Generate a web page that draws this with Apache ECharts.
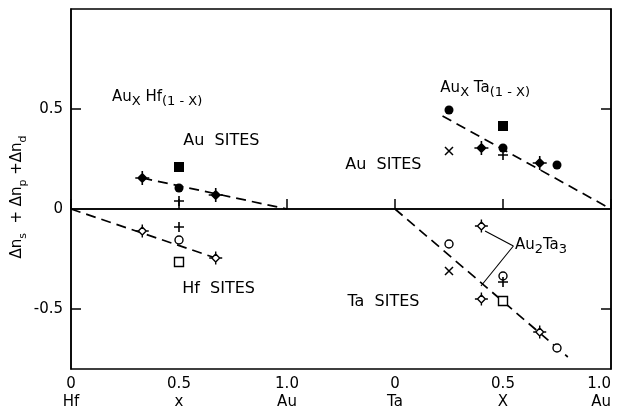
<!DOCTYPE html>
<html>
<head>
<meta charset="utf-8">
<script src="https://cdn.jsdelivr.net/npm/echarts@6/dist/echarts.min.js"></script>
<style>
  html, body { margin: 0; padding: 0; background: #fff; }
  #chart { width: 618px; height: 406px; }
</style>
</head>
<body>
<div id="chart"></div>
<script>
// x axis runs 0..2.5 : Hf panel 0..1, Ta panel starts at 1.5
const TA_OFFSET = 1.5;
const tickLabels = ['0\nHf', '0.5\nx', '1.0\nAu', '0\nTa', '0.5\nX', '1.0\nAu'];
const yTickValues = [-0.5, 0.5];
const yLabelValues = [-0.5, 0, 0.5];

// Au_x Hf_(1-x)  (x, dn)
const hfAuFilledDiamond = [[0.33, 0.155], [0.67, 0.07]];
const hfAuFilledSquare = [[0.5, 0.21]];
const hfAuFilledCircle = [[0.5, 0.105]];
const hfAuPlus = [[0.5, 0.04]];
const hfHfOpenDiamond = [[0.33, -0.11], [0.67, -0.245]];
const hfHfPlus = [[0.5, -0.09]];
const hfHfOpenCircle = [[0.5, -0.155]];
const hfHfOpenSquare = [[0.5, -0.265]];
const hfAuFit = [[0.33, 0.155], [1.0, 0]];
const hfHfFit = [[0, 0], [0.67, -0.245]];

// Au_x Ta_(1-x)  (x, dn)
const taAuFilledCircle = [[0.25, 0.495], [0.5, 0.305], [0.75, 0.22]];
const taAuFilledSquare = [[0.5, 0.415]];
const taAuCross = [[0.25, 0.29]];
const taAuFilledDiamond = [[0.4, 0.305], [0.67, 0.23]];
const taAuPlus = [[0.5, 0.27]];
const taTaOpenDiamond = [[0.4, -0.085], [0.4, -0.45], [0.67, -0.615]];
const taTaOpenCircle = [[0.25, -0.175], [0.5, -0.335], [0.75, -0.695]];
const taTaCross = [[0.25, -0.31]];
const taTaPlus = [[0.5, -0.365]];
const taTaOpenSquare = [[0.5, -0.46]];
const taAuFit = [[0.22, 0.465], [1.0, 0]];
const taTaFit = [[0, 0], [0.8, -0.74]];

const FONT = 'DejaVu Sans';
const INK = '#000';

const SYM = {
  sunDiamond: 'path://M0,-6L6,0L0,6L-6,0ZM0,-10L0,-6M0,6L0,10M-10,0L-6,0M6,0L10,0',
  plus: 'path://M0,-5L0,5M-5,0L5,0',
  cross: 'path://M-5,-5L5,5M-5,5L5,-5'
};

const shift = (arr) => arr.map(p => [p[0] + TA_OFFSET, p[1]]);

function pts(data, kind) {
  let s = { type: 'scatter', data: data, z: 5, silent: true };
  if (kind === 'filledCircle') {
    s.symbol = 'circle'; s.symbolSize = 9; s.itemStyle = { color: INK };
  } else if (kind === 'openCircle') {
    s.symbol = 'circle'; s.symbolSize = 8;
    s.itemStyle = { color: '#fff', borderColor: INK, borderWidth: 1.4 };
  } else if (kind === 'filledSquare') {
    s.symbol = 'rect'; s.symbolSize = 10; s.itemStyle = { color: INK };
  } else if (kind === 'openSquare') {
    s.symbol = 'rect'; s.symbolSize = 9;
    s.itemStyle = { color: '#fff', borderColor: INK, borderWidth: 1.4 };
  } else if (kind === 'filledDiamond') {
    s.symbol = SYM.sunDiamond; s.symbolSize = 14;
    s.itemStyle = { color: INK, borderColor: INK, borderWidth: 1.6 };
  } else if (kind === 'openDiamond') {
    s.symbol = SYM.sunDiamond; s.symbolSize = 13;
    s.itemStyle = { color: '#fff', borderColor: INK, borderWidth: 1.4 };
  } else if (kind === 'plus') {
    s.symbol = SYM.plus; s.symbolSize = 10;
    s.itemStyle = { color: 'transparent', borderColor: INK, borderWidth: 1.6 };
  } else if (kind === 'cross') {
    s.symbol = SYM.cross; s.symbolSize = 8;
    s.itemStyle = { color: 'transparent', borderColor: INK, borderWidth: 1.5 };
  }
  s.itemStyle.opacity = 1;
  return s;
}

function fit(data) {
  return {
    type: 'line', data: data, symbol: 'none', silent: true, z: 3,
    lineStyle: { color: INK, width: 1.7, type: [10, 6] }
  };
}

const richText = {
  a: { fontFamily: FONT, fontSize: 15, color: INK, verticalAlign: 'top', lineHeight: 19 },
  s: { fontFamily: FONT, fontSize: 13, color: INK, verticalAlign: 'bottom', lineHeight: 13, padding: [9, 0, 0, 0] }
};

function note(x, y, text) {
  return {
    value: [x, y],
    label: {
      show: true, position: 'inside', formatter: text,
      fontFamily: FONT, fontSize: 16, color: INK, align: 'left',
      textBorderWidth: 0, rich: richText
    }
  };
}

const chart = echarts.init(document.getElementById('chart'), null, { renderer: 'canvas' });

const option = {
  backgroundColor: '#fff',
  animation: false,
  grid: {
    left: 71, right: 7, top: 9, bottom: 37,
    containLabel: false, outerBoundsMode: 'none',
    show: true, borderColor: INK, borderWidth: 1.5, backgroundColor: 'transparent'
  },
  xAxis: {
    type: 'value', min: 0, max: 2.5, interval: 0.5,
    axisLine: { lineStyle: { color: INK, width: 1.5 } },
    axisTick: { inside: true, length: 10, lineStyle: { color: INK, width: 1.5 } },
    splitLine: { show: false },
    axisLabel: {
      color: INK, fontFamily: FONT, fontSize: 15, lineHeight: 18, margin: 6,
      alignMaxLabel: 'right',
      formatter: (v) => tickLabels[Math.round(v * 2)]
    }
  },
  yAxis: [{
    type: 'value', min: -0.8, max: 1.0,
    name: '{d|Δn}{s|s}{d|  + Δn}{s|p}{d| +Δn}{s|d}',
    nameLocation: 'middle', nameGap: 42, nameMoveOverlap: false,
    nameTextStyle: {
      padding: [0, 16, 0, 0],
      rich: {
        d: { fontFamily: FONT, fontSize: 15, color: INK, verticalAlign: 'top', lineHeight: 19 },
        s: { fontFamily: FONT, fontSize: 11, color: INK, verticalAlign: 'bottom', lineHeight: 11, padding: [10, 0, 0, 0] }
      }
    },
    axisLine: { show: true, lineStyle: { color: INK, width: 1.5 } },
    axisTick: { show: true, inside: true, length: 10, customValues: yTickValues, lineStyle: { color: INK, width: 1.5 } },
    splitLine: { show: false },
    axisLabel: {
      color: INK, fontFamily: FONT, fontSize: 15, margin: 8,
      customValues: yLabelValues,
      formatter: (v) => v === 0 ? '0' : v.toFixed(1)
    }
  }, {
    type: 'value', min: -0.8, max: 1.0, position: 'right',
    axisLine: { show: true, lineStyle: { color: INK, width: 1.5 } },
    axisTick: { show: true, inside: true, length: 10, customValues: yTickValues, lineStyle: { color: INK, width: 1.5 } },
    axisLabel: { show: false },
    splitLine: { show: false }
  }],
  series: [
    {
      type: 'line', data: [[0, 0], [2.5, 0]], symbol: 'none', silent: true, z: 2,
      lineStyle: { color: INK, width: 1.5 }
    },
    fit(hfAuFit),
    fit(hfHfFit),
    fit(shift(taAuFit)),
    fit(shift(taTaFit)),
    pts(hfAuFilledDiamond, 'filledDiamond'),
    pts(hfAuFilledSquare, 'filledSquare'),
    pts(hfAuFilledCircle, 'filledCircle'),
    pts(hfAuPlus, 'plus'),
    pts(hfHfOpenDiamond, 'openDiamond'),
    pts(hfHfPlus, 'plus'),
    pts(hfHfOpenCircle, 'openCircle'),
    pts(hfHfOpenSquare, 'openSquare'),
    pts(shift(taAuFilledCircle), 'filledCircle'),
    pts(shift(taAuFilledSquare), 'filledSquare'),
    pts(shift(taAuCross), 'cross'),
    pts(shift(taAuFilledDiamond), 'filledDiamond'),
    pts(shift(taAuPlus), 'plus'),
    pts(shift(taTaOpenDiamond), 'openDiamond'),
    pts(shift(taTaOpenCircle), 'openCircle'),
    pts(shift(taTaCross), 'cross'),
    pts(shift(taTaPlus), 'plus'),
    pts(shift(taTaOpenSquare), 'openSquare'),
    {
      // text annotations and Au2Ta3 arrows
      type: 'scatter', symbolSize: 0, silent: true, z: 6,
      itemStyle: { opacity: 1 },
      data: [
        note(0.19, 0.55, '{a|Au}{s|X}{a| Hf}{s|(1 - X)}'),
        note(0.52, 0.34, 'Au  SITES'),
        note(1.71, 0.595, '{a|Au}{s|X}{a| Ta}{s|(1 - X)}'),
        note(1.27, 0.22, 'Au  SITES'),
        note(0.515, -0.4, 'Hf  SITES'),
        note(1.28, -0.465, 'Ta  SITES'),
        note(2.055, -0.19, '{a|Au}{s|2}{a|Ta}{s|3}')
      ],
      markLine: {
        silent: true, symbol: ['none', 'arrow'], symbolSize: [0, 8],
        label: { show: false },
        lineStyle: { color: INK, width: 1.1, type: 'solid', opacity: 1 },
        data: [
          [{ coord: [2.048, -0.185] }, { coord: [1.917, -0.11], lineStyle: { curveness: 0 } }],
          [{ coord: [2.048, -0.185] }, { coord: [1.898, -0.385], lineStyle: { curveness: 0.35 } }]
        ]
      }
    }
  ]
};

chart.setOption(option);
</script>
</body>
</html>
